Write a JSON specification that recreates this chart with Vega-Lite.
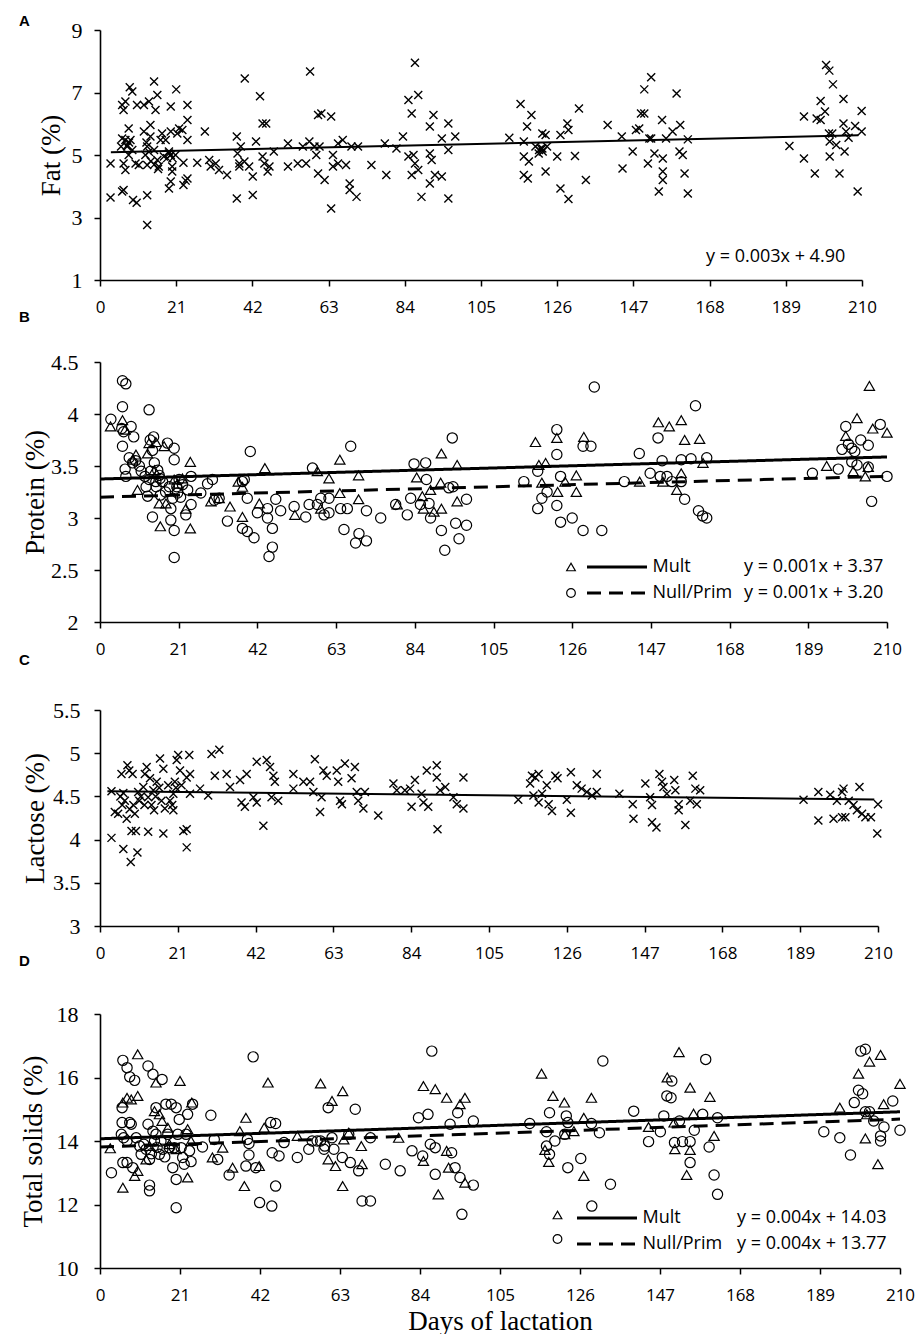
{
  "$schema": "https://vega.github.io/schema/vega-lite/v6.json",
  "background": "white",
  "padding": {"left": 18, "top": 14, "right": 5, "bottom": 0},
  "config": {
    "view": {"stroke": null},
    "axis": {"domainColor": "black", "domainWidth": 1.6, "tickColor": "black", "tickWidth": 1.5, "tickSize": 6, "grid": false, "labelColor": "black", "titleColor": "black", "labelFlush": false, "labelOverlap": false},
    "axisX": {"labelFont": "Open Sans", "labelFontSize": 17, "labelPadding": 13, "titleFont": "Liberation Serif", "titleFontSize": 27, "titleFontWeight": "normal", "titlePadding": 5},
    "axisY": {"labelFont": "Liberation Serif", "labelFontSize": 22, "titleFont": "Liberation Serif", "titleFontSize": 27, "titleFontWeight": "normal", "titleBaseline": "middle"},
    "legend": {"title": null, "orient": "none", "labelColor": "black", "labelFont": "Open Sans", "labelFontSize": 18, "clipHeight": 20},
    "title": {"font": "Liberation Sans", "fontSize": 15, "fontWeight": "bold", "anchor": "start", "frame": "group", "color": "black"}
  },
  "datasets": {
    "fat": [
      {"d":2.9,"v":4.73},{"d":2.9,"v":3.64},{"d":6.1,"v":3.83},{"d":6.5,"v":3.88},{"d":5.8,"v":5.27},{"d":6.1,"v":5.53},{"d":6.5,"v":6.44},{"d":6.1,"v":6.6},{"d":7.0,"v":6.71},{"d":8.2,"v":7.17},
      {"d":8.9,"v":7.03},{"d":7.9,"v":5.85},{"d":7.0,"v":5.48},{"d":8.4,"v":5.48},{"d":7.5,"v":5.27},{"d":6.5,"v":4.73},{"d":7.0,"v":4.52},{"d":7.9,"v":5.0},{"d":8.9,"v":5.16},{"d":9.1,"v":3.56},
      {"d":10.1,"v":3.47},{"d":9.8,"v":4.73},{"d":10.2,"v":6.6},{"d":10.7,"v":4.68},{"d":12.1,"v":5.75},{"d":12.5,"v":5.0},{"d":13.0,"v":4.68},{"d":12.1,"v":6.6},{"d":13.5,"v":6.71},{"d":13.9,"v":5.96},
      {"d":13.0,"v":5.27},{"d":13.9,"v":5.59},{"d":13.0,"v":3.71},{"d":13.0,"v":2.76},{"d":14.9,"v":7.35},{"d":15.3,"v":6.44},{"d":15.8,"v":6.92},{"d":14.9,"v":5.16},{"d":15.8,"v":4.84},{"d":16.2,"v":4.63},
      {"d":16.7,"v":5.48},{"d":17.1,"v":5.69},{"d":17.6,"v":4.95},{"d":18.1,"v":5.48},{"d":19.5,"v":6.55},{"d":19.5,"v":5.75},{"d":19.0,"v":5.11},{"d":19.5,"v":5.0},{"d":19.9,"v":4.63},{"d":19.9,"v":4.47},
      {"d":19.5,"v":4.15},{"d":19.0,"v":3.93},{"d":21.0,"v":7.1},{"d":21.3,"v":5.69},{"d":21.8,"v":5.85},{"d":22.7,"v":5.8},{"d":23.0,"v":4.75},{"d":23.0,"v":4.04},{"d":24.1,"v":6.6},{"d":24.1,"v":6.12},
      {"d":24.1,"v":5.48},{"d":24.1,"v":4.25},{"d":23.6,"v":4.18},{"d":20.8,"v":5.0},{"d":7.4,"v":5.3},{"d":8.0,"v":5.4},{"d":12.8,"v":5.4},{"d":13.5,"v":5.1},{"d":14.0,"v":4.8},{"d":15.0,"v":4.7},
      {"d":16.0,"v":4.55},{"d":18.5,"v":4.9},{"d":19.0,"v":5.05},{"d":20.0,"v":4.9},{"d":26.8,"v":4.75},{"d":28.9,"v":5.75},{"d":30.1,"v":4.84},{"d":30.5,"v":4.63},{"d":31.9,"v":4.73},{"d":32.8,"v":4.52},
      {"d":35.0,"v":4.36},{"d":37.7,"v":5.59},{"d":37.7,"v":3.61},{"d":37.9,"v":5.05},{"d":38.4,"v":4.73},{"d":38.4,"v":4.63},{"d":38.8,"v":5.27},{"d":39.9,"v":7.45},{"d":39.8,"v":4.79},{"d":41.1,"v":4.63},
      {"d":42.1,"v":4.31},{"d":42.1,"v":3.72},{"d":43.0,"v":5.43},{"d":44.1,"v":6.88},{"d":44.8,"v":6.01},{"d":45.8,"v":6.01},{"d":44.8,"v":4.95},{"d":45.3,"v":4.73},{"d":46.2,"v":4.47},{"d":46.7,"v":4.63},
      {"d":47.9,"v":5.11},{"d":51.8,"v":5.37},{"d":51.8,"v":4.63},{"d":54.5,"v":4.73},{"d":55.9,"v":5.27},{"d":56.8,"v":4.73},{"d":57.9,"v":7.67},{"d":57.7,"v":5.43},{"d":59.1,"v":5.27},{"d":59.6,"v":5.0},
      {"d":60.1,"v":6.28},{"d":61.0,"v":6.33},{"d":60.1,"v":4.41},{"d":60.5,"v":5.27},{"d":61.9,"v":4.2},{"d":63.7,"v":6.23},{"d":63.7,"v":3.29},{"d":64.2,"v":5.0},{"d":64.2,"v":4.63},{"d":65.6,"v":5.37},
      {"d":65.6,"v":4.73},{"d":66.9,"v":5.48},{"d":67.8,"v":4.68},{"d":68.8,"v":4.09},{"d":68.8,"v":3.88},{"d":69.3,"v":5.27},{"d":70.7,"v":3.66},{"d":71.1,"v":5.27},{"d":74.8,"v":4.68},{"d":78.5,"v":5.37},
      {"d":78.9,"v":4.36},{"d":81.7,"v":5.21},{"d":83.5,"v":5.59},{"d":85.0,"v":6.76},{"d":85.9,"v":6.33},{"d":86.8,"v":7.95},{"d":87.7,"v":6.92},{"d":85.0,"v":4.95},{"d":86.4,"v":5.0},{"d":85.9,"v":4.36},
      {"d":86.8,"v":4.73},{"d":87.7,"v":4.52},{"d":88.6,"v":3.66},{"d":90.9,"v":5.91},{"d":91.9,"v":6.28},{"d":90.9,"v":5.05},{"d":91.4,"v":4.84},{"d":90.9,"v":4.09},{"d":92.3,"v":4.36},{"d":94.2,"v":4.31},
      {"d":94.2,"v":5.53},{"d":96.0,"v":6.01},{"d":96.0,"v":5.16},{"d":96.0,"v":3.61},{"d":97.9,"v":5.59},
      {"d":112.8,"v":5.55},{"d":115.9,"v":6.63},{"d":116.8,"v":5.43},{"d":116.8,"v":4.95},{"d":117.7,"v":5.91},{"d":118.9,"v":6.28},{"d":118.2,"v":4.79},{"d":116.8,"v":4.36},{"d":117.9,"v":4.25},{"d":120.0,"v":5.27},
      {"d":120.9,"v":5.05},{"d":121.9,"v":5.69},{"d":122.8,"v":5.64},{"d":121.9,"v":5.21},{"d":122.8,"v":4.47},{"d":123.2,"v":5.27},{"d":121.0,"v":5.16},{"d":121.5,"v":5.21},{"d":122.0,"v":5.11},{"d":126.0,"v":4.95},
      {"d":126.9,"v":5.64},{"d":126.9,"v":3.93},{"d":128.8,"v":6.01},{"d":129.1,"v":5.8},{"d":129.1,"v":3.59},{"d":130.9,"v":4.97},{"d":132.0,"v":6.49},{"d":133.9,"v":4.2},{"d":139.9,"v":5.96},{"d":143.8,"v":5.59},
      {"d":144.0,"v":4.57},{"d":146.8,"v":5.11},{"d":147.7,"v":5.8},{"d":148.6,"v":5.85},{"d":150.0,"v":7.1},{"d":149.1,"v":6.33},{"d":150.0,"v":6.33},{"d":151.9,"v":7.49},{"d":151.0,"v":4.73},{"d":151.4,"v":5.53},
      {"d":151.9,"v":5.53},{"d":152.8,"v":5.05},{"d":154.9,"v":6.12},{"d":155.1,"v":4.89},{"d":155.1,"v":4.47},{"d":155.1,"v":4.2},{"d":154.0,"v":3.83},{"d":156.0,"v":5.53},{"d":157.8,"v":5.75},{"d":158.9,"v":6.97},
      {"d":159.9,"v":5.96},{"d":159.7,"v":5.11},{"d":160.6,"v":5.0},{"d":161.1,"v":4.41},{"d":162.0,"v":5.5},{"d":162.0,"v":3.77},{"d":190.0,"v":5.29},{"d":194.0,"v":6.23},{"d":194.0,"v":4.89},{"d":197.0,"v":4.41},
      {"d":197.5,"v":6.17},{"d":198.6,"v":6.73},{"d":198.6,"v":6.12},{"d":199.8,"v":6.39},{"d":200.1,"v":7.88},{"d":201.0,"v":7.7},{"d":202.0,"v":7.26},{"d":200.9,"v":5.69},{"d":201.8,"v":5.69},{"d":201.1,"v":5.43},
      {"d":201.1,"v":4.95},{"d":202.9,"v":5.32},{"d":203.8,"v":4.41},{"d":204.9,"v":6.79},{"d":204.9,"v":6.01},{"d":205.2,"v":5.11},{"d":205.6,"v":5.75},{"d":206.3,"v":5.55},{"d":208.1,"v":5.93},{"d":208.8,"v":3.83},
      {"d":209.9,"v":6.41},{"d":209.9,"v":5.75}
    ],
    "fatFit": [
      {"d":3,"v":5.09,"eq":"y = 0.003x + 4.90"},{"d":209,"v":5.63,"eq":"y = 0.003x + 4.90"}
    ],
    "protein": [
      {"d":2.9,"v":3.95,"g":"Null/Prim"},{"d":6.0,"v":4.32,"g":"Null/Prim"},{"d":6.9,"v":4.29,"g":"Null/Prim"},{"d":6.0,"v":4.07,"g":"Null/Prim"},{"d":5.8,"v":3.86,"g":"Null/Prim"},{"d":6.3,"v":3.83,"g":"Null/Prim"},{"d":8.3,"v":3.88,"g":"Null/Prim"},{"d":9.0,"v":3.78,"g":"Null/Prim"},
      {"d":6.0,"v":3.69,"g":"Null/Prim"},{"d":6.7,"v":3.47,"g":"Null/Prim"},{"d":6.9,"v":3.40,"g":"Null/Prim"},{"d":7.8,"v":3.58,"g":"Null/Prim"},{"d":8.7,"v":3.53,"g":"Null/Prim"},{"d":13.1,"v":4.04,"g":"Null/Prim"},{"d":13.4,"v":3.75,"g":"Null/Prim"},{"d":14.3,"v":3.78,"g":"Null/Prim"},
      {"d":14.0,"v":3.65,"g":"Null/Prim"},{"d":14.5,"v":3.53,"g":"Null/Prim"},{"d":15.4,"v":3.46,"g":"Null/Prim"},{"d":13.1,"v":3.37,"g":"Null/Prim"},{"d":12.3,"v":3.30,"g":"Null/Prim"},{"d":12.7,"v":3.21,"g":"Null/Prim"},{"d":14.0,"v":3.01,"g":"Null/Prim"},{"d":14.9,"v":3.35,"g":"Null/Prim"},
      {"d":15.8,"v":3.41,"g":"Null/Prim"},{"d":16.7,"v":3.35,"g":"Null/Prim"},{"d":16.1,"v":3.22,"g":"Null/Prim"},{"d":18.0,"v":3.72,"g":"Null/Prim"},{"d":19.8,"v":3.67,"g":"Null/Prim"},{"d":19.8,"v":3.56,"g":"Null/Prim"},{"d":18.5,"v":3.30,"g":"Null/Prim"},{"d":19.4,"v":3.19,"g":"Null/Prim"},
      {"d":18.9,"v":3.09,"g":"Null/Prim"},{"d":18.9,"v":2.98,"g":"Null/Prim"},{"d":19.8,"v":2.88,"g":"Null/Prim"},{"d":19.8,"v":2.62,"g":"Null/Prim"},{"d":21.1,"v":3.37,"g":"Null/Prim"},{"d":22.0,"v":3.32,"g":"Null/Prim"},{"d":23.4,"v":3.27,"g":"Null/Prim"},{"d":22.9,"v":3.03,"g":"Null/Prim"},
      {"d":24.3,"v":3.40,"g":"Null/Prim"},{"d":24.3,"v":3.13,"g":"Null/Prim"},{"d":20.7,"v":3.24,"g":"Null/Prim"},{"d":9.5,"v":3.55,"g":"Null/Prim"},{"d":10.5,"v":3.50,"g":"Null/Prim"},{"d":11.0,"v":3.45,"g":"Null/Prim"},{"d":12.0,"v":3.40,"g":"Null/Prim"},{"d":13.5,"v":3.45,"g":"Null/Prim"},
      {"d":15.0,"v":3.30,"g":"Null/Prim"},{"d":17.5,"v":3.25,"g":"Null/Prim"},{"d":20.5,"v":3.30,"g":"Null/Prim"},{"d":21.5,"v":3.20,"g":"Null/Prim"},{"d":16.0,"v":3.38,"g":"Null/Prim"},
      {"d":26.9,"v":3.24,"g":"Null/Prim"},{"d":28.7,"v":3.33,"g":"Null/Prim"},{"d":30.0,"v":3.37,"g":"Null/Prim"},{"d":30.5,"v":3.17,"g":"Null/Prim"},{"d":31.8,"v":3.19,"g":"Null/Prim"},{"d":34.0,"v":2.97,"g":"Null/Prim"},{"d":38.0,"v":3.35,"g":"Null/Prim"},{"d":38.5,"v":3.37,"g":"Null/Prim"},
      {"d":39.3,"v":3.19,"g":"Null/Prim"},{"d":38.0,"v":2.90,"g":"Null/Prim"},{"d":39.3,"v":2.87,"g":"Null/Prim"},{"d":41.1,"v":2.81,"g":"Null/Prim"},{"d":40.1,"v":3.64,"g":"Null/Prim"},{"d":42.0,"v":3.05,"g":"Null/Prim"},{"d":44.7,"v":3.09,"g":"Null/Prim"},{"d":44.7,"v":3.00,"g":"Null/Prim"},
      {"d":46.0,"v":2.90,"g":"Null/Prim"},{"d":46.0,"v":2.72,"g":"Null/Prim"},{"d":45.1,"v":2.63,"g":"Null/Prim"},{"d":46.9,"v":3.18,"g":"Null/Prim"},{"d":48.2,"v":3.07,"g":"Null/Prim"},{"d":51.8,"v":3.11,"g":"Null/Prim"},{"d":54.9,"v":3.01,"g":"Null/Prim"},{"d":55.8,"v":3.13,"g":"Null/Prim"},
      {"d":56.7,"v":3.48,"g":"Null/Prim"},{"d":58.0,"v":3.13,"g":"Null/Prim"},{"d":58.9,"v":3.19,"g":"Null/Prim"},{"d":59.8,"v":3.03,"g":"Null/Prim"},{"d":61.1,"v":3.05,"g":"Null/Prim"},{"d":61.1,"v":3.19,"g":"Null/Prim"},{"d":64.2,"v":3.09,"g":"Null/Prim"},{"d":65.1,"v":2.89,"g":"Null/Prim"},
      {"d":66.0,"v":3.09,"g":"Null/Prim"},{"d":66.9,"v":3.69,"g":"Null/Prim"},{"d":68.2,"v":2.76,"g":"Null/Prim"},{"d":69.1,"v":2.85,"g":"Null/Prim"},{"d":71.1,"v":2.78,"g":"Null/Prim"},{"d":71.1,"v":3.07,"g":"Null/Prim"},{"d":74.9,"v":3.00,"g":"Null/Prim"},{"d":78.9,"v":3.13,"g":"Null/Prim"},
      {"d":82.0,"v":3.03,"g":"Null/Prim"},{"d":82.9,"v":3.19,"g":"Null/Prim"},{"d":83.8,"v":3.52,"g":"Null/Prim"},{"d":85.5,"v":3.13,"g":"Null/Prim"},{"d":86.9,"v":3.53,"g":"Null/Prim"},{"d":87.1,"v":3.37,"g":"Null/Prim"},{"d":87.8,"v":3.14,"g":"Null/Prim"},{"d":88.2,"v":3.00,"g":"Null/Prim"},
      {"d":91.1,"v":2.88,"g":"Null/Prim"},{"d":92.0,"v":2.69,"g":"Null/Prim"},{"d":93.1,"v":3.29,"g":"Null/Prim"},{"d":94.0,"v":3.77,"g":"Null/Prim"},{"d":94.9,"v":2.95,"g":"Null/Prim"},{"d":95.8,"v":2.80,"g":"Null/Prim"},{"d":94.2,"v":3.30,"g":"Null/Prim"},{"d":97.8,"v":3.18,"g":"Null/Prim"},
      {"d":97.8,"v":2.93,"g":"Null/Prim"},{"d":113.1,"v":3.35,"g":"Null/Prim"},{"d":116.8,"v":3.45,"g":"Null/Prim"},{"d":116.8,"v":3.09,"g":"Null/Prim"},{"d":117.9,"v":3.19,"g":"Null/Prim"},{"d":119.3,"v":3.25,"g":"Null/Prim"},{"d":121.9,"v":3.85,"g":"Null/Prim"},{"d":121.9,"v":3.61,"g":"Null/Prim"},
      {"d":122.9,"v":3.40,"g":"Null/Prim"},{"d":121.9,"v":3.12,"g":"Null/Prim"},{"d":122.9,"v":2.96,"g":"Null/Prim"},{"d":126.0,"v":3.00,"g":"Null/Prim"},{"d":128.9,"v":3.69,"g":"Null/Prim"},{"d":131.0,"v":3.69,"g":"Null/Prim"},{"d":128.9,"v":2.88,"g":"Null/Prim"},{"d":131.9,"v":4.26,"g":"Null/Prim"},
      {"d":133.9,"v":2.88,"g":"Null/Prim"},{"d":139.9,"v":3.35,"g":"Null/Prim"},{"d":143.9,"v":3.62,"g":"Null/Prim"},{"d":146.8,"v":3.43,"g":"Null/Prim"},{"d":148.9,"v":3.77,"g":"Null/Prim"},{"d":150.0,"v":3.55,"g":"Null/Prim"},{"d":149.5,"v":3.40,"g":"Null/Prim"},{"d":151.3,"v":3.40,"g":"Null/Prim"},
      {"d":152.6,"v":3.35,"g":"Null/Prim"},{"d":155.1,"v":3.56,"g":"Null/Prim"},{"d":155.1,"v":3.35,"g":"Null/Prim"},{"d":157.7,"v":3.57,"g":"Null/Prim"},{"d":158.9,"v":4.08,"g":"Null/Prim"},{"d":156.0,"v":3.18,"g":"Null/Prim"},{"d":159.7,"v":3.07,"g":"Null/Prim"},{"d":160.8,"v":3.02,"g":"Null/Prim"},
      {"d":161.9,"v":3.00,"g":"Null/Prim"},{"d":161.9,"v":3.58,"g":"Null/Prim"},{"d":190.1,"v":3.43,"g":"Null/Prim"},{"d":197.0,"v":3.47,"g":"Null/Prim"},{"d":198.0,"v":3.66,"g":"Null/Prim"},{"d":199.0,"v":3.88,"g":"Null/Prim"},{"d":199.7,"v":3.71,"g":"Null/Prim"},{"d":200.6,"v":3.67,"g":"Null/Prim"},
      {"d":201.4,"v":3.64,"g":"Null/Prim"},{"d":200.6,"v":3.54,"g":"Null/Prim"},{"d":202.0,"v":3.51,"g":"Null/Prim"},{"d":203.0,"v":3.75,"g":"Null/Prim"},{"d":205.0,"v":3.70,"g":"Null/Prim"},{"d":205.9,"v":3.16,"g":"Null/Prim"},{"d":208.2,"v":3.90,"g":"Null/Prim"},{"d":210.0,"v":3.40,"g":"Null/Prim"},
      {"d":205.0,"v":3.49,"g":"Null/Prim"},
      {"d":2.8,"v":3.88,"g":"Mult"},{"d":6.0,"v":3.94,"g":"Mult"},{"d":6.7,"v":3.85,"g":"Mult"},{"d":9.6,"v":3.61,"g":"Mult"},{"d":8.7,"v":3.56,"g":"Mult"},{"d":10.0,"v":3.27,"g":"Mult"},{"d":12.7,"v":3.62,"g":"Mult"},{"d":13.1,"v":3.72,"g":"Mult"},
      {"d":14.5,"v":3.46,"g":"Mult"},{"d":14.9,"v":3.73,"g":"Mult"},{"d":15.8,"v":3.14,"g":"Mult"},{"d":16.1,"v":2.92,"g":"Mult"},{"d":17.1,"v":3.69,"g":"Mult"},{"d":17.6,"v":3.14,"g":"Mult"},{"d":19.8,"v":3.37,"g":"Mult"},{"d":20.7,"v":3.33,"g":"Mult"},
      {"d":22.0,"v":3.38,"g":"Mult"},{"d":22.9,"v":3.09,"g":"Mult"},{"d":24.1,"v":3.54,"g":"Mult"},{"d":24.1,"v":2.90,"g":"Mult"},{"d":29.6,"v":3.16,"g":"Mult"},{"d":31.8,"v":3.19,"g":"Mult"},{"d":34.7,"v":3.11,"g":"Mult"},{"d":36.9,"v":3.35,"g":"Mult"},
      {"d":38.0,"v":3.30,"g":"Mult"},{"d":38.0,"v":3.01,"g":"Mult"},{"d":42.5,"v":3.14,"g":"Mult"},{"d":44.0,"v":3.48,"g":"Mult"},{"d":52.0,"v":3.03,"g":"Mult"},{"d":58.0,"v":3.45,"g":"Mult"},{"d":58.9,"v":3.09,"g":"Mult"},{"d":61.1,"v":3.38,"g":"Mult"},
      {"d":64.0,"v":3.56,"g":"Mult"},{"d":64.0,"v":3.24,"g":"Mult"},{"d":69.0,"v":3.41,"g":"Mult"},{"d":69.0,"v":3.18,"g":"Mult"},{"d":79.3,"v":3.13,"g":"Mult"},{"d":84.5,"v":3.39,"g":"Mult"},{"d":86.0,"v":3.21,"g":"Mult"},{"d":86.3,"v":3.09,"g":"Mult"},
      {"d":88.2,"v":3.27,"g":"Mult"},{"d":89.1,"v":3.06,"g":"Mult"},{"d":91.1,"v":3.62,"g":"Mult"},{"d":90.9,"v":3.34,"g":"Mult"},{"d":91.1,"v":3.09,"g":"Mult"},{"d":95.3,"v":3.51,"g":"Mult"},{"d":95.3,"v":3.16,"g":"Mult"},{"d":116.2,"v":3.73,"g":"Mult"},
      {"d":117.1,"v":3.51,"g":"Mult"},{"d":118.9,"v":3.53,"g":"Mult"},{"d":117.9,"v":3.34,"g":"Mult"},{"d":121.9,"v":3.77,"g":"Mult"},{"d":122.1,"v":3.25,"g":"Mult"},{"d":124.1,"v":3.35,"g":"Mult"},{"d":127.1,"v":3.41,"g":"Mult"},{"d":127.1,"v":3.25,"g":"Mult"},
      {"d":129.1,"v":3.78,"g":"Mult"},{"d":144.0,"v":3.35,"g":"Mult"},{"d":149.0,"v":3.92,"g":"Mult"},{"d":151.9,"v":3.88,"g":"Mult"},{"d":155.1,"v":3.94,"g":"Mult"},{"d":156.0,"v":3.75,"g":"Mult"},{"d":160.0,"v":3.76,"g":"Mult"},{"d":150.2,"v":3.35,"g":"Mult"},
      {"d":153.9,"v":3.27,"g":"Mult"},{"d":155.1,"v":3.43,"g":"Mult"},{"d":160.9,"v":3.53,"g":"Mult"},{"d":193.9,"v":3.50,"g":"Mult"},{"d":199.0,"v":3.79,"g":"Mult"},{"d":202.0,"v":3.96,"g":"Mult"},{"d":201.0,"v":3.45,"g":"Mult"},{"d":204.2,"v":3.40,"g":"Mult"},
      {"d":205.0,"v":3.49,"g":"Mult"},{"d":205.3,"v":4.27,"g":"Mult"},{"d":206.2,"v":3.86,"g":"Mult"},{"d":210.0,"v":3.82,"g":"Mult"}
    ],
    "proteinFit": [
      {"d":0,"v":3.375,"fit":"Mult","eq":"y = 0.001x + 3.37"},{"d":210,"v":3.587,"fit":"Mult","eq":"y = 0.001x + 3.37"},
      {"d":0,"v":3.20,"fit":"Null/Prim","eq":"y = 0.001x + 3.20"},{"d":209,"v":3.40,"fit":"Null/Prim","eq":"y = 0.001x + 3.20"}
    ],
    "lactose": [
      {"d":3.1,"v":4.02},{"d":3.1,"v":4.56},{"d":4.0,"v":4.32},{"d":4.9,"v":4.30},{"d":5.8,"v":4.76},{"d":6.3,"v":4.54},{"d":6.3,"v":3.89},{"d":6.7,"v":4.45},{"d":7.2,"v":4.24},{"d":7.4,"v":4.86},
      {"d":7.9,"v":4.80},{"d":8.3,"v":3.74},{"d":8.5,"v":4.10},{"d":8.8,"v":4.76},{"d":9.0,"v":4.40},{"d":9.4,"v":4.30},{"d":9.7,"v":4.10},{"d":10.1,"v":3.85},{"d":10.3,"v":4.55},{"d":10.6,"v":4.45},
      {"d":11.7,"v":4.61},{"d":12.1,"v":4.76},{"d":12.6,"v":4.84},{"d":13.0,"v":4.09},{"d":13.0,"v":4.49},{"d":13.5,"v":4.71},{"d":13.9,"v":4.40},{"d":14.4,"v":4.57},{"d":14.6,"v":4.34},{"d":15.3,"v":4.67},
      {"d":16.2,"v":4.94},{"d":16.6,"v":4.45},{"d":17.1,"v":4.82},{"d":17.1,"v":4.07},{"d":17.5,"v":4.36},{"d":18.4,"v":4.63},{"d":18.9,"v":4.45},{"d":19.8,"v":4.34},{"d":19.8,"v":4.53},{"d":20.2,"v":4.67},
      {"d":20.7,"v":4.92},{"d":21.1,"v":4.98},{"d":21.6,"v":4.80},{"d":22.0,"v":4.63},{"d":22.5,"v":4.10},{"d":23.4,"v":4.12},{"d":23.4,"v":3.91},{"d":24.1,"v":4.98},{"d":24.3,"v":4.76},{"d":24.3,"v":4.53},
      {"d":23.4,"v":4.72},{"d":5.5,"v":4.5},{"d":6.0,"v":4.4},{"d":8.0,"v":4.35},{"d":11.0,"v":4.5},{"d":12.0,"v":4.4},{"d":15.0,"v":4.5},{"d":16.0,"v":4.6},{"d":19.5,"v":4.4},{"d":20.5,"v":4.6},
      {"d":27.0,"v":4.59},{"d":29.2,"v":4.51},{"d":30.1,"v":4.99},{"d":32.2,"v":5.04},{"d":31.0,"v":4.74},{"d":34.2,"v":4.76},{"d":35.1,"v":4.61},{"d":37.8,"v":4.69},{"d":38.2,"v":4.43},{"d":39.1,"v":4.38},
      {"d":39.6,"v":4.76},{"d":41.4,"v":4.49},{"d":42.3,"v":4.43},{"d":42.3,"v":4.90},{"d":44.1,"v":4.16},{"d":45.0,"v":4.92},{"d":45.9,"v":4.84},{"d":46.8,"v":4.74},{"d":46.3,"v":4.49},{"d":47.2,"v":4.67},
      {"d":48.1,"v":4.45},{"d":52.2,"v":4.76},{"d":52.2,"v":4.59},{"d":54.9,"v":4.67},{"d":56.7,"v":4.67},{"d":58.0,"v":4.93},{"d":57.6,"v":4.55},{"d":59.8,"v":4.49},{"d":59.4,"v":4.32},{"d":60.3,"v":4.80},
      {"d":61.2,"v":4.74},{"d":63.9,"v":4.80},{"d":64.3,"v":4.67},{"d":64.8,"v":4.45},{"d":65.3,"v":4.41},{"d":66.1,"v":4.88},{"d":67.9,"v":4.71},{"d":68.8,"v":4.84},{"d":69.3,"v":4.55},{"d":69.7,"v":4.45},
      {"d":71.1,"v":4.36},{"d":71.5,"v":4.55},{"d":75.1,"v":4.28},{"d":79.2,"v":4.65},{"d":80.1,"v":4.57},{"d":82.3,"v":4.57},{"d":83.7,"v":4.59},{"d":85.0,"v":4.69},{"d":84.1,"v":4.38},{"d":86.8,"v":4.53},
      {"d":87.3,"v":4.43},{"d":88.2,"v":4.80},{"d":88.6,"v":4.38},{"d":90.9,"v":4.86},{"d":90.9,"v":4.72},{"d":91.1,"v":4.12},{"d":91.8,"v":4.57},{"d":93.2,"v":4.61},{"d":95.4,"v":4.49},{"d":96.3,"v":4.41},
      {"d":98.1,"v":4.72},{"d":98.1,"v":4.36},{"d":112.9,"v":4.46},{"d":116.1,"v":4.65},{"d":116.6,"v":4.74},{"d":117.5,"v":4.72},{"d":118.4,"v":4.76},{"d":117.0,"v":4.51},{"d":118.4,"v":4.43},{"d":119.3,"v":4.53},
      {"d":120.6,"v":4.63},{"d":121.1,"v":4.41},{"d":122.0,"v":4.33},{"d":122.9,"v":4.74},{"d":123.5,"v":4.71},{"d":126.0,"v":4.46},{"d":127.1,"v":4.78},{"d":127.1,"v":4.31},{"d":128.7,"v":4.63},{"d":130.0,"v":4.59},
      {"d":131.4,"v":4.55},{"d":132.8,"v":4.51},{"d":134.1,"v":4.76},{"d":134.1,"v":4.55},{"d":140.2,"v":4.53},{"d":143.8,"v":4.41},{"d":144.0,"v":4.24},{"d":147.2,"v":4.65},{"d":148.5,"v":4.49},{"d":149.0,"v":4.40},
      {"d":149.0,"v":4.20},{"d":150.2,"v":4.14},{"d":151.0,"v":4.76},{"d":151.7,"v":4.67},{"d":152.1,"v":4.61},{"d":153.0,"v":4.53},{"d":155.0,"v":4.69},{"d":155.3,"v":4.57},{"d":156.2,"v":4.41},{"d":156.2,"v":4.34},
      {"d":158.0,"v":4.17},{"d":159.3,"v":4.45},{"d":160.0,"v":4.74},{"d":160.7,"v":4.59},{"d":161.1,"v":4.41},{"d":162.0,"v":4.57},{"d":189.9,"v":4.46},{"d":193.9,"v":4.55},{"d":193.9,"v":4.22},{"d":197.1,"v":4.52},
      {"d":198.0,"v":4.24},{"d":198.9,"v":4.45},{"d":200.3,"v":4.55},{"d":200.7,"v":4.59},{"d":200.3,"v":4.26},{"d":201.2,"v":4.26},{"d":202.1,"v":4.45},{"d":203.4,"v":4.40},{"d":204.3,"v":4.34},{"d":205.0,"v":4.61},
      {"d":205.7,"v":4.30},{"d":206.6,"v":4.26},{"d":208.1,"v":4.26},{"d":210.0,"v":4.41},{"d":209.8,"v":4.07}
    ],
    "lactoseFit": [
      {"d":2,"v":4.56},{"d":209,"v":4.465}
    ],
    "solids": [
      {"d":3.0,"v":13.00,"g":"Null/Prim"},{"d":6.0,"v":16.54,"g":"Null/Prim"},{"d":7.1,"v":16.31,"g":"Null/Prim"},{"d":7.8,"v":16.02,"g":"Null/Prim"},{"d":9.1,"v":15.91,"g":"Null/Prim"},{"d":5.8,"v":15.05,"g":"Null/Prim"},{"d":5.8,"v":14.58,"g":"Null/Prim"},{"d":5.6,"v":14.21,"g":"Null/Prim"},
      {"d":6.2,"v":14.10,"g":"Null/Prim"},{"d":7.1,"v":14.00,"g":"Null/Prim"},{"d":6.0,"v":13.32,"g":"Null/Prim"},{"d":7.1,"v":13.32,"g":"Null/Prim"},{"d":7.8,"v":14.58,"g":"Null/Prim"},{"d":8.2,"v":14.53,"g":"Null/Prim"},{"d":8.6,"v":13.16,"g":"Null/Prim"},{"d":9.5,"v":14.10,"g":"Null/Prim"},
      {"d":10.4,"v":13.84,"g":"Null/Prim"},{"d":10.8,"v":13.58,"g":"Null/Prim"},{"d":12.6,"v":16.36,"g":"Null/Prim"},{"d":13.9,"v":16.10,"g":"Null/Prim"},{"d":16.3,"v":15.94,"g":"Null/Prim"},{"d":13.0,"v":12.61,"g":"Null/Prim"},{"d":13.0,"v":12.43,"g":"Null/Prim"},{"d":12.1,"v":13.74,"g":"Null/Prim"},
      {"d":13.0,"v":13.42,"g":"Null/Prim"},{"d":12.6,"v":14.53,"g":"Null/Prim"},{"d":13.9,"v":14.31,"g":"Null/Prim"},{"d":14.3,"v":14.00,"g":"Null/Prim"},{"d":14.7,"v":14.21,"g":"Null/Prim"},{"d":14.7,"v":15.05,"g":"Null/Prim"},{"d":15.6,"v":13.58,"g":"Null/Prim"},{"d":16.0,"v":14.00,"g":"Null/Prim"},
      {"d":16.5,"v":13.74,"g":"Null/Prim"},{"d":17.3,"v":15.16,"g":"Null/Prim"},{"d":17.8,"v":14.21,"g":"Null/Prim"},{"d":18.2,"v":13.79,"g":"Null/Prim"},{"d":18.7,"v":15.16,"g":"Null/Prim"},{"d":19.1,"v":13.16,"g":"Null/Prim"},{"d":19.5,"v":13.79,"g":"Null/Prim"},{"d":20.0,"v":12.79,"g":"Null/Prim"},
      {"d":20.0,"v":15.05,"g":"Null/Prim"},{"d":20.0,"v":11.90,"g":"Null/Prim"},{"d":20.4,"v":14.21,"g":"Null/Prim"},{"d":20.8,"v":14.68,"g":"Null/Prim"},{"d":21.3,"v":13.79,"g":"Null/Prim"},{"d":21.7,"v":13.48,"g":"Null/Prim"},{"d":22.1,"v":13.27,"g":"Null/Prim"},{"d":22.6,"v":14.21,"g":"Null/Prim"},
      {"d":23.0,"v":14.84,"g":"Null/Prim"},{"d":23.5,"v":13.69,"g":"Null/Prim"},{"d":23.9,"v":13.35,"g":"Null/Prim"},{"d":24.3,"v":15.16,"g":"Null/Prim"},{"d":11.5,"v":13.9,"g":"Null/Prim"},{"d":13.5,"v":13.6,"g":"Null/Prim"},{"d":15.0,"v":13.8,"g":"Null/Prim"},{"d":17.0,"v":13.5,"g":"Null/Prim"},
      {"d":26.9,"v":13.81,"g":"Null/Prim"},{"d":29.1,"v":14.81,"g":"Null/Prim"},{"d":30.0,"v":14.05,"g":"Null/Prim"},{"d":30.9,"v":13.42,"g":"Null/Prim"},{"d":33.9,"v":12.93,"g":"Null/Prim"},{"d":38.3,"v":13.21,"g":"Null/Prim"},{"d":38.7,"v":14.05,"g":"Null/Prim"},{"d":39.1,"v":13.56,"g":"Null/Prim"},
      {"d":39.1,"v":13.92,"g":"Null/Prim"},{"d":40.2,"v":16.65,"g":"Null/Prim"},{"d":40.9,"v":13.16,"g":"Null/Prim"},{"d":41.9,"v":12.06,"g":"Null/Prim"},{"d":45.1,"v":11.95,"g":"Null/Prim"},{"d":44.8,"v":14.58,"g":"Null/Prim"},{"d":46.1,"v":14.55,"g":"Null/Prim"},{"d":45.2,"v":13.63,"g":"Null/Prim"},
      {"d":46.1,"v":12.58,"g":"Null/Prim"},{"d":47.0,"v":13.53,"g":"Null/Prim"},{"d":48.3,"v":13.95,"g":"Null/Prim"},{"d":51.8,"v":13.48,"g":"Null/Prim"},{"d":54.8,"v":13.74,"g":"Null/Prim"},{"d":55.7,"v":14.00,"g":"Null/Prim"},{"d":57.0,"v":14.00,"g":"Null/Prim"},{"d":57.9,"v":14.00,"g":"Null/Prim"},
      {"d":59.0,"v":13.84,"g":"Null/Prim"},{"d":58.8,"v":13.74,"g":"Null/Prim"},{"d":59.9,"v":15.05,"g":"Null/Prim"},{"d":60.9,"v":14.10,"g":"Null/Prim"},{"d":61.4,"v":13.74,"g":"Null/Prim"},{"d":63.6,"v":13.48,"g":"Null/Prim"},{"d":65.3,"v":14.21,"g":"Null/Prim"},{"d":65.7,"v":13.32,"g":"Null/Prim"},
      {"d":67.0,"v":15.00,"g":"Null/Prim"},{"d":67.9,"v":13.06,"g":"Null/Prim"},{"d":68.8,"v":12.11,"g":"Null/Prim"},{"d":71.0,"v":12.11,"g":"Null/Prim"},{"d":71.0,"v":14.10,"g":"Null/Prim"},{"d":74.9,"v":13.27,"g":"Null/Prim"},{"d":78.8,"v":13.06,"g":"Null/Prim"},{"d":81.9,"v":13.69,"g":"Null/Prim"},
      {"d":83.6,"v":14.73,"g":"Null/Prim"},{"d":86.1,"v":14.84,"g":"Null/Prim"},{"d":84.7,"v":13.53,"g":"Null/Prim"},{"d":87.1,"v":16.83,"g":"Null/Prim"},{"d":86.7,"v":13.90,"g":"Null/Prim"},{"d":88.0,"v":13.79,"g":"Null/Prim"},{"d":88.0,"v":12.95,"g":"Null/Prim"},{"d":91.9,"v":14.53,"g":"Null/Prim"},
      {"d":93.2,"v":13.16,"g":"Null/Prim"},{"d":93.9,"v":14.89,"g":"Null/Prim"},{"d":94.5,"v":12.85,"g":"Null/Prim"},{"d":95.0,"v":11.69,"g":"Null/Prim"},{"d":92.3,"v":13.63,"g":"Null/Prim"},{"d":98.0,"v":12.61,"g":"Null/Prim"},{"d":98.0,"v":14.63,"g":"Null/Prim"},{"d":112.8,"v":14.55,"g":"Null/Prim"},
      {"d":117.2,"v":14.29,"g":"Null/Prim"},{"d":118.0,"v":14.89,"g":"Null/Prim"},{"d":117.2,"v":13.84,"g":"Null/Prim"},{"d":118.0,"v":13.58,"g":"Null/Prim"},{"d":119.4,"v":14.00,"g":"Null/Prim"},{"d":122.4,"v":14.79,"g":"Null/Prim"},{"d":122.0,"v":14.21,"g":"Null/Prim"},{"d":122.8,"v":14.58,"g":"Null/Prim"},
      {"d":122.8,"v":13.16,"g":"Null/Prim"},{"d":126.2,"v":13.45,"g":"Null/Prim"},{"d":129.0,"v":14.55,"g":"Null/Prim"},{"d":129.1,"v":11.95,"g":"Null/Prim"},{"d":131.1,"v":14.26,"g":"Null/Prim"},{"d":132.0,"v":16.52,"g":"Null/Prim"},{"d":134.0,"v":12.64,"g":"Null/Prim"},{"d":140.1,"v":14.94,"g":"Null/Prim"},
      {"d":144.0,"v":13.98,"g":"Null/Prim"},{"d":147.1,"v":14.29,"g":"Null/Prim"},{"d":148.0,"v":14.79,"g":"Null/Prim"},{"d":148.8,"v":15.42,"g":"Null/Prim"},{"d":149.9,"v":15.36,"g":"Null/Prim"},{"d":150.1,"v":15.89,"g":"Null/Prim"},{"d":150.8,"v":13.95,"g":"Null/Prim"},{"d":152.1,"v":14.63,"g":"Null/Prim"},
      {"d":152.9,"v":13.98,"g":"Null/Prim"},{"d":154.9,"v":13.98,"g":"Null/Prim"},{"d":154.9,"v":13.32,"g":"Null/Prim"},{"d":156.0,"v":14.34,"g":"Null/Prim"},{"d":158.2,"v":14.84,"g":"Null/Prim"},{"d":159.0,"v":16.57,"g":"Null/Prim"},{"d":159.9,"v":13.81,"g":"Null/Prim"},{"d":161.2,"v":12.93,"g":"Null/Prim"},
      {"d":162.1,"v":14.73,"g":"Null/Prim"},{"d":162.1,"v":12.32,"g":"Null/Prim"},{"d":190.0,"v":14.29,"g":"Null/Prim"},{"d":194.2,"v":14.10,"g":"Null/Prim"},{"d":197.0,"v":13.56,"g":"Null/Prim"},{"d":198.0,"v":15.21,"g":"Null/Prim"},{"d":199.1,"v":15.60,"g":"Null/Prim"},{"d":200.2,"v":15.49,"g":"Null/Prim"},
      {"d":199.7,"v":16.83,"g":"Null/Prim"},{"d":200.9,"v":16.89,"g":"Null/Prim"},{"d":200.9,"v":14.92,"g":"Null/Prim"},{"d":202.0,"v":14.92,"g":"Null/Prim"},{"d":203.1,"v":14.63,"g":"Null/Prim"},{"d":204.9,"v":14.16,"g":"Null/Prim"},{"d":204.9,"v":14.00,"g":"Null/Prim"},{"d":205.8,"v":14.44,"g":"Null/Prim"},
      {"d":208.1,"v":15.26,"g":"Null/Prim"},{"d":210.0,"v":14.34,"g":"Null/Prim"},
      {"d":2.7,"v":13.77,"g":"Mult"},{"d":6.0,"v":12.53,"g":"Mult"},{"d":6.0,"v":15.21,"g":"Mult"},{"d":7.1,"v":15.36,"g":"Mult"},{"d":8.2,"v":15.31,"g":"Mult"},{"d":9.9,"v":16.73,"g":"Mult"},{"d":9.9,"v":15.42,"g":"Mult"},{"d":9.1,"v":12.90,"g":"Mult"},
      {"d":9.9,"v":13.06,"g":"Mult"},{"d":12.1,"v":13.42,"g":"Mult"},{"d":13.0,"v":13.84,"g":"Mult"},{"d":14.7,"v":15.84,"g":"Mult"},{"d":14.3,"v":14.94,"g":"Mult"},{"d":15.6,"v":14.84,"g":"Mult"},{"d":16.3,"v":14.63,"g":"Mult"},{"d":17.8,"v":14.42,"g":"Mult"},
      {"d":18.2,"v":13.90,"g":"Mult"},{"d":20.0,"v":13.74,"g":"Mult"},{"d":21.0,"v":15.89,"g":"Mult"},{"d":23.0,"v":14.37,"g":"Mult"},{"d":23.0,"v":12.85,"g":"Mult"},{"d":24.1,"v":15.21,"g":"Mult"},{"d":23.9,"v":14.00,"g":"Mult"},{"d":29.5,"v":13.48,"g":"Mult"},
      {"d":32.2,"v":13.79,"g":"Mult"},{"d":34.8,"v":13.16,"g":"Mult"},{"d":36.7,"v":14.31,"g":"Mult"},{"d":38.3,"v":14.73,"g":"Mult"},{"d":37.9,"v":12.58,"g":"Mult"},{"d":41.8,"v":13.21,"g":"Mult"},{"d":43.1,"v":14.42,"g":"Mult"},{"d":44.1,"v":15.84,"g":"Mult"},
      {"d":51.8,"v":14.16,"g":"Mult"},{"d":57.9,"v":15.81,"g":"Mult"},{"d":59.9,"v":13.42,"g":"Mult"},{"d":60.9,"v":15.26,"g":"Mult"},{"d":61.8,"v":13.21,"g":"Mult"},{"d":63.7,"v":15.57,"g":"Mult"},{"d":63.7,"v":12.58,"g":"Mult"},{"d":64.0,"v":14.05,"g":"Mult"},
      {"d":65.3,"v":14.26,"g":"Mult"},{"d":68.6,"v":13.84,"g":"Mult"},{"d":68.8,"v":13.27,"g":"Mult"},{"d":78.4,"v":14.10,"g":"Mult"},{"d":84.9,"v":15.73,"g":"Mult"},{"d":84.9,"v":13.37,"g":"Mult"},{"d":88.0,"v":15.63,"g":"Mult"},{"d":88.8,"v":12.32,"g":"Mult"},
      {"d":91.0,"v":15.36,"g":"Mult"},{"d":91.0,"v":13.69,"g":"Mult"},{"d":91.5,"v":13.16,"g":"Mult"},{"d":94.5,"v":15.16,"g":"Mult"},{"d":95.8,"v":15.36,"g":"Mult"},{"d":95.8,"v":12.69,"g":"Mult"},{"d":115.9,"v":16.12,"g":"Mult"},{"d":118.9,"v":15.42,"g":"Mult"},
      {"d":121.9,"v":15.21,"g":"Mult"},{"d":116.8,"v":13.72,"g":"Mult"},{"d":117.8,"v":13.34,"g":"Mult"},{"d":122.0,"v":14.21,"g":"Mult"},{"d":124.4,"v":14.31,"g":"Mult"},{"d":127.0,"v":14.73,"g":"Mult"},{"d":129.0,"v":15.36,"g":"Mult"},{"d":127.0,"v":12.90,"g":"Mult"},
      {"d":144.0,"v":14.44,"g":"Mult"},{"d":148.9,"v":16.00,"g":"Mult"},{"d":152.0,"v":16.80,"g":"Mult"},{"d":150.7,"v":14.58,"g":"Mult"},{"d":150.9,"v":13.74,"g":"Mult"},{"d":154.9,"v":15.68,"g":"Mult"},{"d":155.8,"v":14.86,"g":"Mult"},{"d":154.9,"v":13.72,"g":"Mult"},
      {"d":154.0,"v":12.93,"g":"Mult"},{"d":160.1,"v":15.39,"g":"Mult"},{"d":161.2,"v":14.16,"g":"Mult"},{"d":194.2,"v":15.05,"g":"Mult"},{"d":199.1,"v":16.12,"g":"Mult"},{"d":200.9,"v":14.08,"g":"Mult"},{"d":202.0,"v":16.50,"g":"Mult"},{"d":204.9,"v":16.71,"g":"Mult"},
      {"d":205.7,"v":15.16,"g":"Mult"},{"d":204.2,"v":13.27,"g":"Mult"},{"d":210.0,"v":15.80,"g":"Mult"},{"d":201.3,"v":14.84,"g":"Mult"}
    ],
    "solidsFit": [
      {"d":0,"v":14.07,"fit":"Mult","eq":"y = 0.004x + 14.03"},{"d":210,"v":14.92,"fit":"Mult","eq":"y = 0.004x + 14.03"},
      {"d":0,"v":13.81,"fit":"Null/Prim","eq":"y = 0.004x + 13.77"},{"d":210,"v":14.69,"fit":"Null/Prim","eq":"y = 0.004x + 13.77"}
    ]
  },
  "vconcat": [
    {
      "width": 762,
      "height": 250,
      "title": {"text": "A", "dx": -81, "offset": -10},
      "layer": [
        {
          "data": {"name": "fat"},
          "mark": {"type": "point", "shape": "M-1,-1L1,1M-1,1L1,-1", "filled": false, "stroke": "black", "strokeWidth": 1.4, "size": 64, "opacity": 1},
          "encoding": {
            "x": {"field": "d", "type": "quantitative", "scale": {"domain": [0, 210], "nice": false}, "axis": {"title": null, "values": [0, 21, 42, 63, 84, 105, 126, 147, 168, 189, 210]}},
            "y": {"field": "v", "type": "quantitative", "scale": {"domain": [1, 9], "nice": false, "zero": false}, "axis": {"title": "Fat (%)", "values": [1, 3, 5, 7, 9], "titleX": -49, "labelPadding": 12}}
          }
        },
        {
          "data": {"name": "fatFit"},
          "mark": {"type": "line", "strokeWidth": 2},
          "encoding": {
            "x": {"field": "d", "type": "quantitative"},
            "y": {"field": "v", "type": "quantitative"},
            "color": {"field": "eq", "type": "nominal", "scale": {"range": ["black"]}, "legend": {"legendX": 588, "legendY": 217, "symbolSize": 0, "symbolStrokeWidth": 0, "labelOffset": 0}}
          }
        }
      ]
    },
    {
      "vconcat": [
        {
          "width": 787,
          "height": 260,
          "title": {"text": "B", "dx": -81, "offset": 26},
          "layer": [
            {
              "data": {"name": "protein"},
              "mark": {"type": "point", "filled": false, "color": "black", "strokeWidth": 1.2, "size": 105, "opacity": 1},
              "encoding": {
                "x": {"field": "d", "type": "quantitative", "scale": {"domain": [0, 210], "nice": false}, "axis": {"title": null, "values": [0, 21, 42, 63, 84, 105, 126, 147, 168, 189, 210]}},
                "y": {"field": "v", "type": "quantitative", "scale": {"domain": [2, 4.5], "nice": false, "zero": false}, "axis": {"title": "Protein (%)", "values": [2, 2.5, 3, 3.5, 4, 4.5], "format": "~g", "titleX": -65, "labelPadding": 16}},
                "shape": {"field": "g", "type": "nominal", "scale": {"range": ["triangle-up", "circle"]}, "legend": {"legendX": 462, "legendY": 195, "symbolSize": 75, "symbolStrokeWidth": 1.2, "symbolStrokeColor": "black", "labelExpr": "''", "labelOffset": 0, "rowPadding": 6}}
              }
            },
            {
              "data": {"name": "proteinFit"},
              "mark": {"type": "line", "strokeWidth": 3, "color": "black"},
              "encoding": {
                "x": {"field": "d", "type": "quantitative"},
                "y": {"field": "v", "type": "quantitative"},
                "strokeDash": {"field": "fit", "type": "nominal", "scale": {"range": [[1, 0], [14, 8]]}, "legend": {"legendX": 485.5, "legendY": 195, "symbolType": "stroke", "symbolSize": 3600, "symbolStrokeWidth": 3, "symbolStrokeColor": "black", "rowPadding": 6}},
                "color": {"field": "eq", "type": "nominal", "sort": ["y = 0.001x + 3.37", "y = 0.001x + 3.20"], "scale": {"range": ["black", "black"]}, "legend": {"legendX": 626, "legendY": 195, "symbolSize": 0, "symbolStrokeWidth": 0, "labelOffset": 0, "rowPadding": 6}}
              }
            }
          ]
        },
        {
          "width": 778,
          "height": 216,
          "title": {"text": "C", "dx": -81, "offset": 31},
          "layer": [
            {
              "data": {"name": "lactose"},
              "mark": {"type": "point", "shape": "M-1,-1L1,1M-1,1L1,-1", "filled": false, "stroke": "black", "strokeWidth": 1.4, "size": 64, "opacity": 1},
              "encoding": {
                "x": {"field": "d", "type": "quantitative", "scale": {"domain": [0, 210], "nice": false}, "axis": {"title": null, "values": [0, 21, 42, 63, 84, 105, 126, 147, 168, 189, 210]}},
                "y": {"field": "v", "type": "quantitative", "scale": {"domain": [3, 5.5], "nice": false, "zero": false}, "axis": {"title": "Lactose (%)", "values": [3, 3.5, 4, 4.5, 5, 5.5], "format": "~g", "titleX": -65, "labelPadding": 14}}
              }
            },
            {
              "data": {"name": "lactoseFit"},
              "mark": {"type": "line", "strokeWidth": 2, "color": "black"},
              "encoding": {
                "x": {"field": "d", "type": "quantitative"},
                "y": {"field": "v", "type": "quantitative"}
              }
            }
          ]
        },
        {
          "width": 800,
          "height": 254,
          "title": {"text": "D", "dx": -81, "offset": 34},
          "layer": [
            {
              "data": {"name": "solids"},
              "mark": {"type": "point", "filled": false, "color": "black", "strokeWidth": 1.2, "size": 105, "opacity": 1},
              "encoding": {
                "x": {"field": "d", "type": "quantitative", "scale": {"domain": [0, 210], "nice": false}, "axis": {"title": "Days of lactation", "values": [0, 21, 42, 63, 84, 105, 126, 147, 168, 189, 210]}},
                "y": {"field": "v", "type": "quantitative", "scale": {"domain": [10, 18], "nice": false, "zero": false}, "axis": {"title": "Total solids (%)", "values": [10, 11, 12, 13, 14, 15, 16, 17, 18], "titleX": -67, "labelPadding": 16}},
                "shape": {"field": "g", "type": "nominal", "scale": {"range": ["triangle-up", "circle"]}, "legend": {"legendX": 448.5, "legendY": 191, "symbolSize": 75, "symbolStrokeWidth": 1.2, "symbolStrokeColor": "black", "labelExpr": "''", "labelOffset": 0, "rowPadding": 4}}
              }
            },
            {
              "data": {"name": "solidsFit"},
              "mark": {"type": "line", "strokeWidth": 3, "color": "black"},
              "encoding": {
                "x": {"field": "d", "type": "quantitative"},
                "y": {"field": "v", "type": "quantitative"},
                "strokeDash": {"field": "fit", "type": "nominal", "scale": {"range": [[1, 0], [14, 8]]}, "legend": {"legendX": 475.5, "legendY": 194, "symbolType": "stroke", "symbolSize": 3600, "symbolStrokeWidth": 3, "symbolStrokeColor": "black", "rowPadding": 6}},
                "color": {"field": "eq", "type": "nominal", "sort": ["y = 0.004x + 14.03", "y = 0.004x + 13.77"], "scale": {"range": ["black", "black"]}, "legend": {"legendX": 619, "legendY": 194, "symbolSize": 0, "symbolStrokeWidth": 0, "labelOffset": 0, "rowPadding": 6}}
              }
            }
          ]
        }
      ],
      "spacing": 88,
      "bounds": "flush",
      "resolve": {
        "scale": {"color": "independent", "shape": "independent", "strokeDash": "independent"},
        "legend": {"color": "independent", "shape": "independent", "strokeDash": "independent"}
      }
    }
  ],
  "spacing": 82,
  "bounds": "flush",
  "resolve": {
    "scale": {"color": "independent", "shape": "independent", "strokeDash": "independent"},
    "legend": {"color": "independent", "shape": "independent", "strokeDash": "independent"}
  }
}
